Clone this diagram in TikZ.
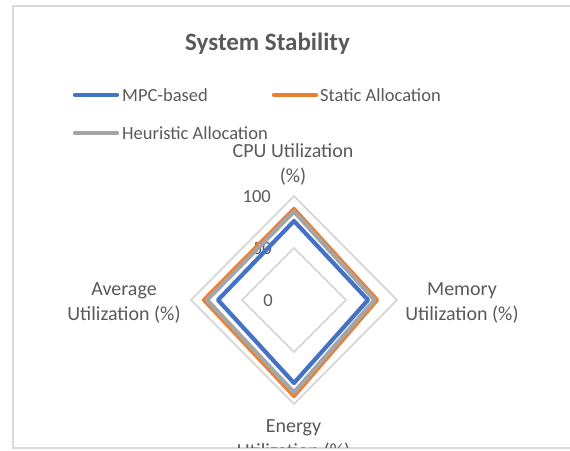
\documentclass[tikz,border=0pt]{standalone}
\usepackage{fontspec}
\setmainfont{Carlito}
\definecolor{txt}{HTML}{595959}
\definecolor{gridc}{HTML}{D9D9D9}
\definecolor{mpc}{HTML}{4472C4}
\definecolor{stat}{HTML}{ED7D31}
\definecolor{heur}{HTML}{A5A5A5}
\tikzset{
  axislabel/.style={text=txt, font=\fontsize{20pt}{25pt}\selectfont, align=center, inner sep=0pt},
  ticklabel/.style={text=txt, font=\fontsize{18.5pt}{22pt}\selectfont, inner sep=0pt, anchor=base east},
  legendtext/.style={text=txt, font=\fontsize{18.5pt}{22pt}\selectfont, inner sep=0pt, anchor=base west},
  gridline/.style={draw=gridc, line width=2pt, line join=miter},
  series/.style={line width=4.2pt, line join=round},
  legline/.style={line width=4.2pt, line cap=round},
}
\begin{document}
\begin{tikzpicture}[x=1pt,y=-1pt]
\useasboundingbox (0,0) rectangle (570,450);
% chart border
\coordinate (bl) at (13,448);
\coordinate (tl) at (13,6);
\coordinate (tr) at (571,6);
\coordinate (br) at (571,448);
\draw[gridc, line width=1.5pt] (br) -- (bl) -- (tl) -- (tr);
% title
\node[text=txt, font=\fontsize{25pt}{30pt}\selectfont\bfseries, anchor=base, inner sep=0pt] (title) at (267.5,50) {System Stability};
% legend
\coordinate (l1a) at (75,95); \coordinate (l1b) at (117,95);
\coordinate (l2a) at (274,95); \coordinate (l2b) at (316,95);
\coordinate (l3a) at (75,133); \coordinate (l3b) at (117,133);
\draw[legline, mpc] (l1a) -- (l1b);
\draw[legline, stat] (l2a) -- (l2b);
\draw[legline, heur] (l3a) -- (l3b);
\node[legendtext] (leg1) at (122,101) {MPC-based};
\node[legendtext] (leg2) at (320,101) {Static Allocation};
\node[legendtext] (leg3) at (122,139) {Heuristic Allocation};
% radar grid
\coordinate (c) at (294,300);
\coordinate (g1t) at (294,196); \coordinate (g1r) at (397,300);
\coordinate (g1b) at (294,404); \coordinate (g1l) at (191,300);
\coordinate (g2t) at (294,248); \coordinate (g2r) at (346,300);
\coordinate (g2b) at (294,352); \coordinate (g2l) at (242,300);
\draw[gridline] (g1t) -- (g1r) -- (g1b) -- (g1l) -- cycle;
\draw[gridline] (g2t) -- (g2r) -- (g2b) -- (g2l) -- cycle;
% tick labels
\node[ticklabel] (t100) at (271,202) {100};
\node[ticklabel] (t50) at (272,254) {50};
\node[ticklabel] (t0) at (273,306) {0};
% series: static (orange)
\coordinate (st) at (294,209); \coordinate (sr) at (377,300);
\coordinate (sb) at (294,396); \coordinate (sl) at (204,300);
\draw[series, stat] (st) -- (sr) -- (sb) -- (sl) -- cycle;
% series: heuristic (gray)
\coordinate (ht) at (294,211.5); \coordinate (hr) at (374.5,300);
\coordinate (hb) at (294,392.5); \coordinate (hl) at (207,300);
\draw[series, heur] (ht) -- (hr) -- (hb) -- (hl) -- cycle;
% series: MPC (blue)
\coordinate (mt) at (294,221); \coordinate (mr) at (368,300);
\coordinate (mb) at (294,383); \coordinate (ml) at (218,300);
\draw[series, mpc] (mt) -- (mr) -- (mb) -- (ml) -- cycle;
% axis labels (anchor base = baseline of last line)
\node[axislabel, anchor=base] (cpu) at (293,182) {CPU Utilization\\(\%)};
\node[axislabel, anchor=base] (mem) at (462,320) {Memory\\Utilization (\%)};
\node[axislabel, anchor=base] (avg) at (124,320) {Average\\Utilization (\%)};
\begin{scope}
\clip (0,0) rectangle (570,447);
\node[axislabel, anchor=base] (ene) at (293.5,457) {Energy\\Utilization (\%)};
\end{scope}
\end{tikzpicture}
\end{document}
